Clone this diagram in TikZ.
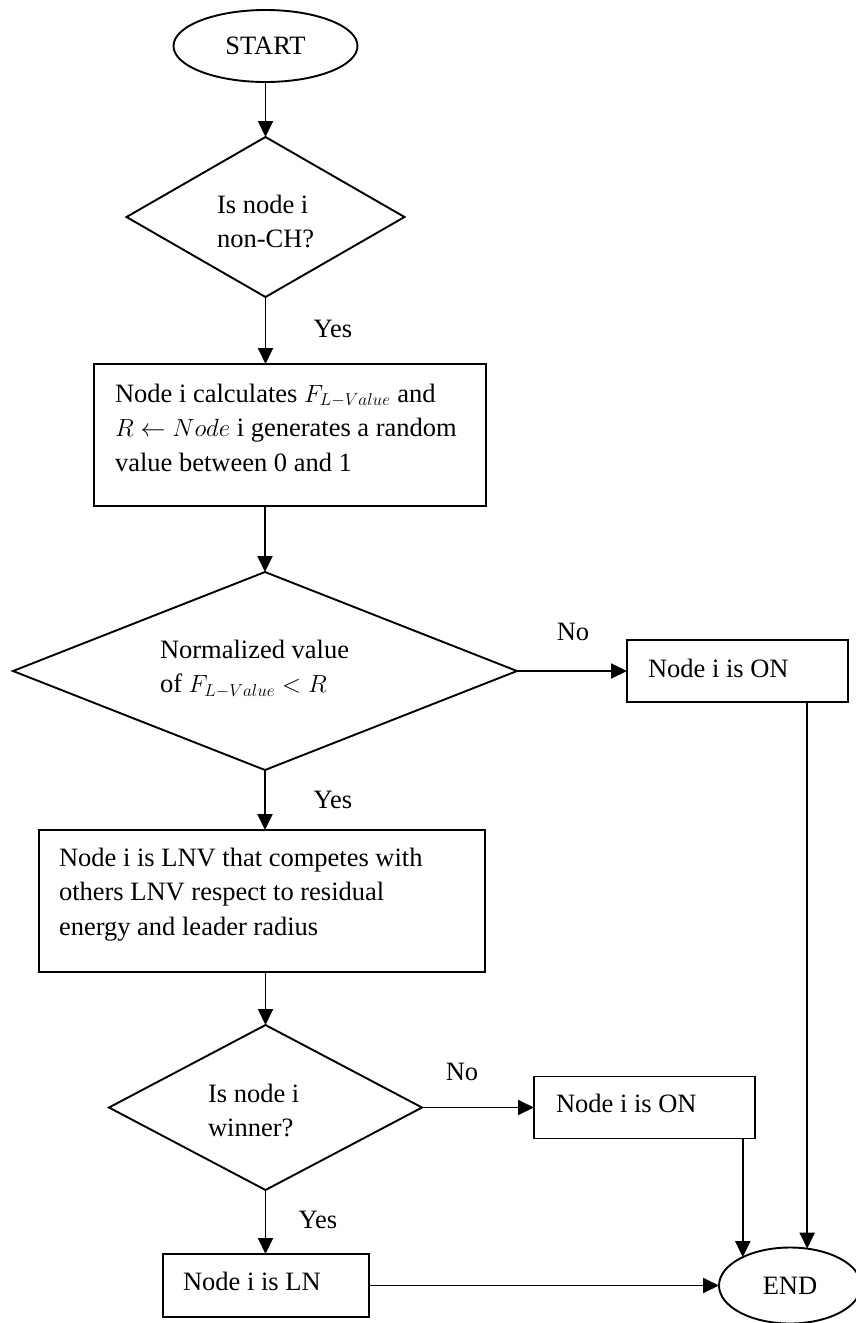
\documentclass[tikz,border=0pt]{standalone}
\usepackage{fontspec}
\setmainfont{Liberation Serif}
\usetikzlibrary{shapes.geometric,arrows.meta,calc}
\begin{document}
\begin{tikzpicture}[x=1pt,y=-1pt,
  every node/.style={font=\fontsize{26.5}{34.5}\selectfont},
  procbox/.style={draw, line width=1.9pt, inner sep=0pt, outer sep=0pt, rectangle},
  decision/.style={draw, line width=1.9pt, inner sep=0pt, outer sep=0pt, diamond},
  terminal/.style={draw, line width=1.9pt, inner sep=0pt, outer sep=0pt, ellipse},
  txt/.style={anchor=base west, inner sep=0pt, outer sep=0pt},
  lbl/.style={inner sep=0pt, outer sep=0pt},
  arr/.style={line width=1.9pt, -{Triangle[length=16pt,width=15pt]}}]
\useasboundingbox (0,0) rectangle (855,1323);

% shapes
\node[terminal, minimum width=184pt, minimum height=72pt] (start) at (265.5,46) {START};
\node[decision, minimum width=278pt, minimum height=160pt] (d1) at (265.5,217) {};
\node[procbox, minimum width=392pt, minimum height=142pt] (b1) at (290,435) {};
\node[decision, minimum width=504pt, minimum height=198pt] (d2) at (265,671) {};
\node[procbox, minimum width=221pt, minimum height=62pt] (on1) at (737.5,671) {};
\node[procbox, minimum width=446pt, minimum height=142pt] (b2) at (262,901) {};
\node[decision, minimum width=313pt, minimum height=165pt] (d3) at (265.5,1107.5) {};
\node[procbox, minimum width=221pt, minimum height=62pt] (on2) at (644.5,1107.5) {};
\node[procbox, minimum width=206pt, minimum height=63pt] (ln) at (266,1285.5) {};
\node[terminal, minimum width=142pt, minimum height=76pt] (end) at (790,1285.5) {END};

% texts
\node[txt] (t1) at (217,213) {\begin{tabular}[t]{@{}l@{}}Is node i\\ non-CH?\end{tabular}};
\node[txt] (t2) at (115,402) {\begin{tabular}[t]{@{}l@{}}Node i calculates $F_{L-Value}$ and\\ $R \leftarrow Node$ i generates a random\\ value between 0 and 1\end{tabular}};
\node[txt] (t3) at (160,658) {\begin{tabular}[t]{@{}l@{}}Normalized value\\ of $F_{L-Value} < R$\end{tabular}};
\node[txt] (t4) at (648,677) {Node i is ON};
\node[txt] (t5) at (59,866) {\begin{tabular}[t]{@{}l@{}}Node i is LNV that competes with\\ others LNV respect to residual\\ energy and leader radius\end{tabular}};
\node[txt] (t6) at (208,1102) {\begin{tabular}[t]{@{}l@{}}Is node i\\ winner?\end{tabular}};
\node[txt] (t7) at (556,1112) {Node i is ON};
\node[txt] (t8) at (183,1290) {Node i is LN};

% branch labels
\node[lbl] (yes1) at (333,329) {Yes};
\node[lbl] (no1) at (573,632) {No};
\node[lbl] (yes2) at (333,800) {Yes};
\node[lbl] (no2) at (462,1072) {No};
\node[lbl] (yes3) at (318,1220) {Yes};

% connectors
\draw[arr] (start.south) -- (d1.north);
\draw[arr] (d1.south) -- (d1.south |- b1.north);
\draw[arr] (d2.north |- b1.south) -- (d2.north);
\draw[arr] (d2.east) -- (on1.west);
\draw[arr] (d2.south) -- (d2.south |- b2.north);
\draw[arr] (d3.north |- b2.south) -- (d3.north);
\draw[arr] (d3.east) -- (on2.west);
\draw[arr] (d3.south) -- (d3.south |- ln.north);
\draw[arr] (ln.east) -- (end.west);
\draw[arr] (on1.south -| end.65) -- (end.65);
\draw[arr] (on2.south -| end.149) -- (end.149);
\end{tikzpicture}
\end{document}
